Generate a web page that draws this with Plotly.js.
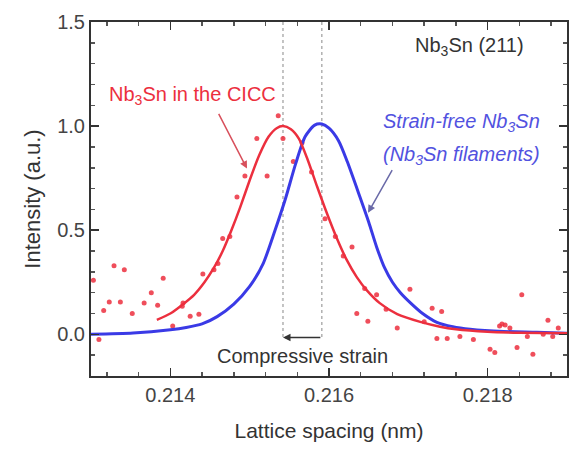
<!DOCTYPE html>
<html>
<head>
<meta charset="utf-8">
<script src="https://cdn.plot.ly/plotly-3.0.1.min.js"></script>
<style>html,body{margin:0;padding:0;background:#fff;}#chart{width:573px;height:452px;}</style>
</head>
<body>
<div id="chart"></div>
<script>
// Red measured points (Nb3Sn in the CICC)
const redPtsX = [0.21303,0.2131,0.21316,0.21323,0.21329,0.21337,0.21342,0.21352,0.21367,0.21376,0.21384,0.21391,0.21403,
  0.21416,0.21415,0.21425,0.21436,0.21441,0.21455,0.2146,0.21466,0.21475,0.21484,0.21494,0.21509,0.21522,0.21536,0.21542,
  0.21555,0.21566,0.21578,0.21595,0.21608,0.21618,0.21629,0.21635,0.21645,0.21649,0.2166,0.21672,0.21686,0.21702,0.2172,
  0.2173,0.21736,0.21742,0.21749,0.21765,0.21782,0.21803,0.21809,0.21815,0.21818,0.21822,0.21828,0.21837,0.21843,0.2185,
  0.21857,0.2187,0.21876,0.21882,0.21889];
const redPtsY = [0.26,-0.025,0.115,0.155,0.33,0.155,0.31,0.10,0.15,0.20,0.14,0.27,0.04,
  0.15,0.135,0.087,0.097,0.29,0.31,0.34,0.46,0.47,0.66,0.76,0.94,0.76,1.05,0.94,
  0.83,0.92,0.78,0.555,0.47,0.376,0.42,0.10,0.22,0.063,0.19,0.12,0.03,0.217,0.06,
  0.125,-0.02,0.11,-0.02,-0.01,-0.025,-0.072,-0.087,0.04,0.05,0.045,0.03,-0.063,0.19,-0.01,
  -0.096,0.0,0.068,-0.01,0.03];

// Red fitted profile
const redFitX = [0.21383,0.2140,0.21416,0.2143,0.21443,0.21455,0.21466,0.21477,0.21488,0.215,0.21512,0.21524,0.21534,0.21542,
  0.21552,0.21562,0.21573,0.21585,0.21597,0.2161,0.21622,0.21635,0.21648,0.21664,0.21686,0.21715,0.2174,0.2176,0.2180,0.2184,0.2190];
const redFitY = [0.07,0.10,0.145,0.19,0.25,0.32,0.40,0.50,0.61,0.74,0.86,0.95,0.99,1.00,
  0.985,0.94,0.84,0.71,0.585,0.46,0.36,0.275,0.21,0.15,0.097,0.06,0.037,0.025,0.013,0.008,0.005];

// Blue fitted profile (strain-free Nb3Sn filaments)
const blueFitX = [0.2130,0.21353,0.2140,0.2142,0.2144,0.21459,0.2148,0.2150,0.21517,0.21532,0.21545,0.21558,0.2157,0.21582,
  0.21591,0.2160,0.21612,0.21623,0.21639,0.2165,0.2166,0.2167,0.2168,0.2169,0.21703,0.21718,0.21736,0.21756,0.21778,0.2182,0.21862,0.2190];
const blueFitY = [0.0,0.006,0.022,0.033,0.05,0.085,0.145,0.23,0.34,0.50,0.65,0.82,0.95,1.005,
  1.01,0.99,0.93,0.83,0.66,0.54,0.42,0.32,0.25,0.20,0.15,0.1,0.058,0.037,0.025,0.014,0.01,0.005];

// Peak positions (dashed guides)
const peakRed = 0.21542;
const peakBlue = 0.21591;

const xTicks = [0.214, 0.216, 0.218];
const yTicks = [0.0, 0.5, 1.0, 1.5];

const redC = '#ec2f3e';
const blueC = '#3a3ae6';

const traces = [
  {x:[peakRed,peakRed], y:[1.5,-0.02], mode:'lines', line:{color:'#888', width:1, dash:'dot'}, hoverinfo:'skip'},
  {x:[peakBlue,peakBlue], y:[1.5,-0.02], mode:'lines', line:{color:'#888', width:1, dash:'dot'}, hoverinfo:'skip'},
  {x:redPtsX, y:redPtsY, mode:'markers', marker:{color:redC, size:5, symbol:'circle', opacity:0.85}},
  {x:blueFitX, y:blueFitY, mode:'lines', line:{color:blueC, width:3, shape:'spline', smoothing:0.7}},
  {x:redFitX, y:redFitY, mode:'lines', line:{color:redC, width:2.5, shape:'spline', smoothing:0.7}}
];

const fnt = 'Liberation Sans, Arial, sans-serif';

const layout = {
  width:573, height:452,
  margin:{l:91, r:6, t:22, b:76},
  paper_bgcolor:'#fff', plot_bgcolor:'#fff',
  showlegend:false,
  font:{family:fnt, size:20, color:'#333'},
  xaxis:{
    range:[0.213, 0.219], tickvals:xTicks, ticktext:xTicks.map(v=>v.toFixed(3)),
    ticks:'inside', ticklen:8, tickwidth:1.5, tickcolor:'#333',
    minor:{dtick:0.0004, tick0:0.214, ticks:'inside', ticklen:4, tickcolor:'#555'},
    showline:true, linecolor:'#333', linewidth:2, mirror:'ticks',
    showgrid:false, zeroline:false,
    tickfont:{size:20, color:'#444'},
    title:{text:'Lattice spacing (nm)', font:{size:21, color:'#333'}, standoff:18}
  },
  yaxis:{
    range:[-0.2, 1.5], tickvals:yTicks, ticktext:yTicks.map(v=>v.toFixed(1)),
    ticks:'inside', ticklen:8, tickwidth:1.5, tickcolor:'#333',
    minor:{dtick:0.1, tick0:0, ticks:'inside', ticklen:4, tickcolor:'#555'},
    showline:true, linecolor:'#333', linewidth:2, mirror:'ticks',
    showgrid:false, zeroline:false,
    tickfont:{size:20, color:'#444'},
    title:{text:'Intensity (a.u.)', font:{size:22, color:'#333'}, standoff:10}
  },
  annotations:[
    {x:0.21428, y:1.148, xref:'x', yref:'y', text:'Nb<sub>3</sub>Sn in the CICC', showarrow:false,
     font:{size:20, color:redC}},
    {x:0.214966, y:0.796, ax:0.2146, ay:1.066, axref:'x', ayref:'y', xref:'x', yref:'y', text:'',
     showarrow:true, arrowhead:2, arrowsize:1, arrowwidth:1.5, arrowcolor:'#d8505c'},
    {x:0.21767, y:1.018, xref:'x', yref:'y', text:'<i>Strain-free Nb<sub>3</sub>Sn</i>', showarrow:false,
     font:{size:20, color:'#5252e0'}},
    {x:0.21767, y:0.859, xref:'x', yref:'y', text:'<i>(Nb<sub>3</sub>Sn filaments)</i>', showarrow:false,
     font:{size:20, color:'#5252e0'}},
    {x:0.216492, y:0.584, ax:0.216807, ay:0.796, axref:'x', ayref:'y', xref:'x', yref:'y', text:'',
     showarrow:true, arrowhead:2, arrowsize:1, arrowwidth:1.5, arrowcolor:'#6a6aa8'},
    {x:0.217765, y:1.38, xref:'x', yref:'y', text:'Nb<sub>3</sub>Sn (211)', showarrow:false,
     font:{size:20, color:'#333'}},
    {x:0.21566, y:-0.106, xref:'x', yref:'y', text:'Compressive strain', showarrow:false,
     font:{size:20, color:'#333'}},
    {x:peakRed, y:-0.015, ax:peakBlue, ay:-0.015, axref:'x', ayref:'y', xref:'x', yref:'y', text:'',
     showarrow:true, arrowhead:2, arrowsize:1, arrowwidth:1.5, arrowcolor:'#333'}
  ]
};

Plotly.newPlot('chart', traces, layout, {displayModeBar:false, staticPlot:true});
</script>
</body>
</html>
